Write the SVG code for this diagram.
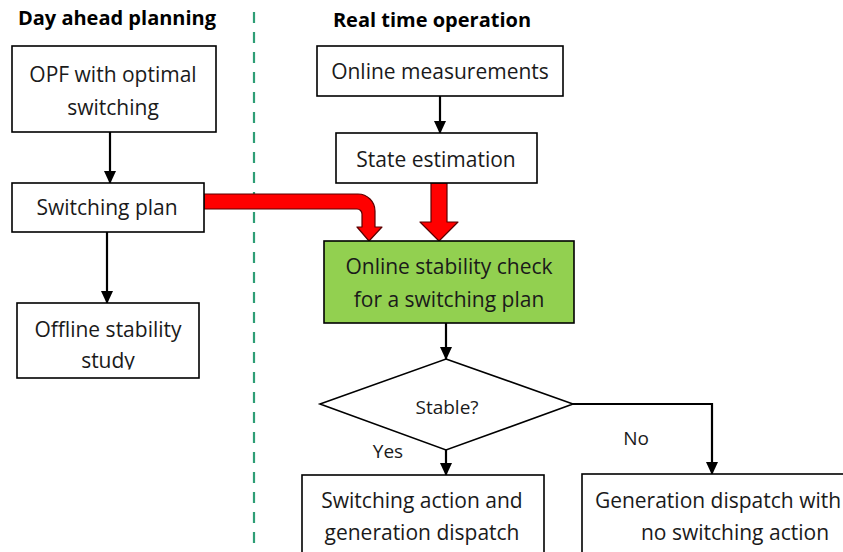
<svg xmlns="http://www.w3.org/2000/svg" width="843" height="552" viewBox="0 0 843 552">
  <style>
    .box { fill: #ffffff; stroke: #000000; stroke-width: 1.6; }
    .green { fill: #92d050; stroke: #000000; stroke-width: 1.6; }
    .txt { font-family: "Open Sans", "Liberation Sans", sans-serif; font-size: 21px; fill: #1a1a1a; text-anchor: middle; }
    .small { font-size: 19px; }
    .title { font-family: "Open Sans", "Liberation Sans", sans-serif; font-size: 20px; font-weight: bold; fill: #000000; text-anchor: middle; }
    .link { fill: none; stroke: #000000; stroke-width: 2.2; }
    .bigarrow { fill: #ff0000; stroke: #5a0000; stroke-width: 1.2; stroke-linejoin: round; }
    .divider { stroke: #2e9e76; stroke-width: 2.2; stroke-dasharray: 11 9; }
  </style>
  <defs>
    <marker id="head" markerUnits="userSpaceOnUse" viewBox="0 0 13 12" markerWidth="13" markerHeight="12" refX="12" refY="6" orient="auto">
      <path d="M0,0 L13,6 L0,12 Z" fill="#000000"/>
    </marker>
    <!-- the second line of this box runs into its lower edge and is cut off -->
    <clipPath id="clip-offline">
      <rect x="17" y="303" width="182" height="66.5"/>
    </clipPath>
  </defs>

  <rect width="843" height="552" fill="#ffffff"/>

  <!-- column divider -->
  <line class="divider" x1="254" y1="12" x2="254" y2="552"/>

  <!-- column headings -->
  <text class="title" x="117" y="25">Day ahead planning</text>
  <text class="title" x="432" y="27">Real time operation</text>

  <!-- connectors -->
  <g id="connectors">
    <line class="link" x1="110" y1="132" x2="110" y2="183" marker-end="url(#head)"/>
    <line class="link" x1="107" y1="232" x2="107" y2="303" marker-end="url(#head)"/>
    <line class="link" x1="440" y1="96" x2="440" y2="133" marker-end="url(#head)"/>
    <line class="link" x1="446" y1="323" x2="446" y2="359" marker-end="url(#head)"/>
    <line class="link" x1="446" y1="450" x2="446" y2="475" marker-end="url(#head)"/>
    <polyline class="link" points="573,404 712,404 712,474" marker-end="url(#head)"/>
    <!-- block arrows into the stability check -->
    <path class="bigarrow" d="M204,194 H358 A17,17 0 0 1 375,211 V227 H382 L369,241 L357,227 H362 V214 A5,5 0 0 0 357,209 H204 Z"/>
    <path class="bigarrow" d="M431,183 H447 V222 H458 L439,241 L420,222 H431 Z"/>
  </g>

  <!-- day ahead planning -->
  <g id="opf">
    <rect class="box" x="12" y="46" width="204" height="86"/>
    <text class="txt" x="113" y="82">OPF with optimal</text>
    <text class="txt" x="113" y="115">switching</text>
  </g>
  <g id="switching-plan">
    <rect class="box" x="12" y="183" width="192" height="49"/>
    <text class="txt" x="107" y="215">Switching plan</text>
  </g>
  <g id="offline-study">
    <rect class="box" x="17" y="303" width="182" height="75"/>
    <g clip-path="url(#clip-offline)">
      <text class="txt" x="108" y="337">Offline stability</text>
      <text class="txt" x="108" y="368">study</text>
    </g>
  </g>

  <!-- real time operation -->
  <g id="measurements">
    <rect class="box" x="317" y="46" width="246" height="50"/>
    <text class="txt" x="440" y="79">Online measurements</text>
  </g>
  <g id="state-estimation">
    <rect class="box" x="336" y="133" width="201" height="50"/>
    <text class="txt" x="436" y="167">State estimation</text>
  </g>
  <g id="stability-check">
    <rect class="green" x="324" y="241" width="250" height="82"/>
    <text class="txt" x="449" y="274">Online stability check</text>
    <text class="txt" x="449" y="307">for a switching plan</text>
  </g>
  <g id="stable-decision">
    <polygon class="box" points="446,359 573,404 446,450 320,404"/>
    <text class="txt small" x="447" y="414">Stable?</text>
  </g>
  <text class="txt small" x="388" y="458">Yes</text>
  <text class="txt small" x="636" y="445">No</text>
  <g id="switch-and-dispatch">
    <rect class="box" x="302" y="475" width="242" height="90"/>
    <text class="txt" x="422" y="508">Switching action and</text>
    <text class="txt" x="422" y="540">generation dispatch</text>
  </g>
  <g id="dispatch-only">
    <rect class="box" x="582" y="474" width="280" height="90"/>
    <text class="txt" x="718" y="508">Generation dispatch with</text>
    <text class="txt" x="735" y="540">no switching action</text>
  </g>
</svg>
